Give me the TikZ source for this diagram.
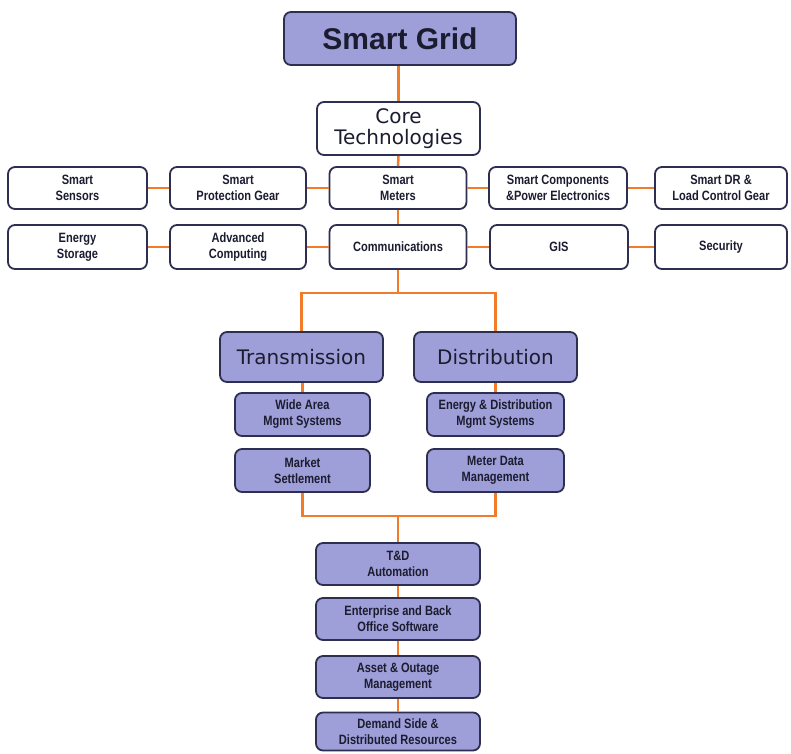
\documentclass[tikz,border=0pt]{standalone}
\usepackage{fontspec}
\setmainfont{Liberation Sans}
\newfontfamily\verdfont{DejaVu Sans}
\newfontfamily\narrowfont[FakeStretch=0.82]{Liberation Sans}
\definecolor{lav}{RGB}{158,158,216}
\definecolor{navy}{RGB}{46,46,80}
\definecolor{org}{RGB}{240,124,42}
\tikzset{
  box/.style={draw=navy, line width=1.8pt, rounded corners=7pt, inner sep=0pt, align=center, text=navy!60!black},
  lavbox/.style={box, fill=lav},
  whitebox/.style={box, fill=white},
  small/.style={font=\narrowfont\bfseries\fontsize{13.5}{16}\selectfont},
  conn/.style={draw=org, line width=2.5pt},
}
\begin{document}
\begin{tikzpicture}[x=1pt,y=-1pt]
\useasboundingbox[fill=white] (0,0) rectangle (791,753);
% top
\node[lavbox, minimum width=232, minimum height=53, font=\bfseries\fontsize{30}{32}\selectfont] (grid) at (400,38.5) {Smart Grid};
\node[whitebox, minimum width=163, minimum height=53, font=\verdfont\fontsize{20}{21}\selectfont] (core) at (398.5,128.5) {Core\\Technologies};
% row 1
\node[whitebox, small, minimum width=139, minimum height=42] (sens) at (77.5,188) {Smart\\Sensors};
\node[whitebox, small, minimum width=136, minimum height=42] (prot) at (238,188) {Smart\\Protection Gear};
\node[whitebox, small, minimum width=137, minimum height=42] (meters) at (398,188) {Smart\\Meters};
\node[whitebox, small, minimum width=138, minimum height=42] (comp) at (558,188) {Smart Components\\\&Power Electronics};
\node[whitebox, small, minimum width=132, minimum height=42] (dr) at (721,188) {Smart DR \&\\Load Control Gear};
% row 2
\node[whitebox, small, minimum width=139, minimum height=44] (stor) at (77.5,247) {Energy\\Storage};
\node[whitebox, small, minimum width=136, minimum height=44] (adv) at (238,247) {Advanced\\Computing};
\node[whitebox, small, minimum width=137, minimum height=44] (comm) at (398,247) {Communications};
\node[whitebox, small, minimum width=138, minimum height=44] (gis) at (559,247) {GIS};
\node[whitebox, small, minimum width=132, minimum height=44] (sec) at (721,247) {Security};
% transmission / distribution
\node[lavbox, minimum width=163, minimum height=50, font=\verdfont\fontsize{20}{22}\selectfont] (trans) at (301.5,357) {Transmission};
\node[lavbox, minimum width=163, minimum height=50, font=\verdfont\fontsize{20}{22}\selectfont] (dist) at (495.5,357) {Distribution};
\node[lavbox, small, minimum width=135, minimum height=43] (wide) at (302.5,414.5) {Wide Area\\Mgmt Systems};
\node[lavbox, small, minimum width=135, minimum height=43] (market) at (302.5,470.5) {Market\\Settlement};
\node[lavbox, small, minimum width=137, minimum height=43] (eds) at (495.5,414.5) {Energy \& Distribution\\Mgmt Systems};
\node[lavbox, small, minimum width=137, minimum height=43] (mdm) at (495.5,470.5) {Meter Data\\Management};
% bottom column
\node[lavbox, small, minimum width=164, minimum height=42] (td) at (398,564) {T\&D\\Automation};
\node[lavbox, small, minimum width=164, minimum height=42] (ent) at (398,619) {Enterprise and Back\\Office Software};
\node[lavbox, small, minimum width=164, minimum height=42] (asset) at (398,677) {Asset \& Outage\\Management};
\node[lavbox, small, minimum width=164, minimum height=38] (dem) at (398,731.5) {Demand Side \&\\Distributed Resources};
% coordinates
\coordinate (fork) at (398,293);
\coordinate (join) at (398,516);
% connectors
\draw[conn] (grid.south -| core.north) -- (core.north);
\draw[conn] (core.south) -- (meters.north);
\draw[conn] (meters.south) -- (comm.north);
\draw[conn] (sens) -- (prot);
\draw[conn] (prot) -- (meters);
\draw[conn] (meters) -- (comp);
\draw[conn] (comp) -- (dr);
\draw[conn] (stor) -- (adv);
\draw[conn] (adv) -- (comm);
\draw[conn] (comm) -- (gis);
\draw[conn] (gis) -- (sec);
\draw[conn] (comm.south) -- (fork);
\draw[conn] (trans.north) |- (fork) -| (dist.north);
\draw[conn] (trans.south -| wide.north) -- (wide.north);
\draw[conn] (dist.south) -- (eds.north);
\draw[conn] (market.south) |- (join) -| (mdm.south);
\draw[conn] (join) -- (td.north);
\draw[conn] (td.south) -- (ent.north);
\draw[conn] (ent.south) -- (asset.north);
\draw[conn] (asset.south) -- (dem.north);
\end{tikzpicture}
\end{document}
